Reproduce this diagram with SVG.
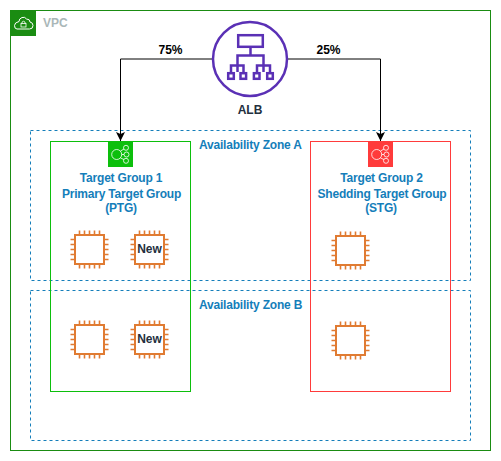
<svg xmlns="http://www.w3.org/2000/svg" width="501" height="461" viewBox="0 0 501 461">
<style>
text{font-family:"Liberation Sans",Arial,sans-serif;font-size:12px;font-weight:bold}
.az{fill:none;stroke:#147eba;stroke-dasharray:3 3}
.az-t{fill:#147eba;letter-spacing:-0.2px}
.tg{fill:#147eba;text-anchor:middle;letter-spacing:-0.2px}
.dark{fill:#232f3e;text-anchor:middle}
.conn{fill:none;stroke:#000;stroke-width:1}
.chip{fill:#fff;stroke:#e07b32;stroke-width:2}
.pins{fill:none;stroke:#e07b32;stroke-width:1.6}
.ic{fill:none;stroke:#fff;stroke-width:0.8}
.alb{fill:none;stroke:#5a30b5;stroke-width:2.5}
</style>
<defs>
<marker id="arrow" markerUnits="userSpaceOnUse" markerWidth="10" markerHeight="10" refX="9" refY="5" orient="auto"><path d="M0 0.500 L9 5 L0 9.500 L2 5 Z" fill="#000"/></marker>
<g id="chip">
<path class="pins" d="M-10 -19V-14M-5 -19V-14M0 -19V-14M5 -19V-14M10 -19V-14M-10 14V19M-5 14V19M0 14V19M5 14V19M10 14V19M-19 -10H-14M-19 -5H-14M-19 0H-14M-19 5H-14M-19 10H-14M14 -10H19M14 -5H19M14 0H19M14 5H19M14 10H19"/>
<rect class="chip" x="-14.500" y="-14.500" width="29" height="29"/>
</g>
<g id="tgicon">
<circle class="ic" cx="8.700" cy="12.500" r="5"/>
<circle class="ic" cx="18" cy="5.800" r="2.500"/>
<circle class="ic" cx="18.500" cy="12.500" r="2.500"/>
<circle class="ic" cx="18" cy="18.800" r="2.500"/>
<path class="ic" d="M12.500 9L16 7M13.700 12.500H16M12.500 16L16 17.500"/>
</g>
</defs>
<g id="vpc">
<rect x="10.500" y="10.500" width="480" height="440" fill="#fff" stroke="#1a8c12"/>
<rect x="10" y="10" width="26" height="26" fill="#1a8c12"/>
<path d="M17 29H29.500Q33 29 33 25.500Q33 22.500 30 22Q30 19 26.500 19Q25 16.500 22 17.500Q19 18.500 19 21.500Q14.500 22.500 14.500 25.500Q14.500 29 17 29Z" fill="none" stroke="#fff"/>
<rect x="21" y="23.500" width="5" height="3.500" fill="none" stroke="#fff" stroke-width="0.800"/>
<path d="M22 23.500V22Q23.500 20.500 25 22V23.500" fill="none" stroke="#fff" stroke-width="0.800"/>
<text x="43" y="27" fill="#aab7b8">VPC</text>
</g>
<g id="az-a">
<rect class="az" x="30.500" y="130.500" width="440" height="150"/>
<text class="az-t" x="199" y="149">Availability Zone A</text>
</g>
<g id="az-b">
<rect class="az" x="30.500" y="290.500" width="440" height="150"/>
<text class="az-t" x="199" y="309">Availability Zone B</text>
</g>
<g id="tg1">
<rect x="50.500" y="141.500" width="140" height="250" fill="none" stroke="#0cbf0c"/>
<rect x="108" y="142" width="25" height="25" fill="#0cbf0c"/>
<use href="#tgicon" x="108" y="142"/>
<text class="tg" x="121" y="182">Target Group 1</text>
<text class="tg" x="121.500" y="198">Primary Target Group</text>
<text class="tg" x="121" y="212">(PTG)</text>
</g>
<g id="tg2">
<rect x="310.500" y="141.500" width="140" height="250" fill="none" stroke="#ff3b3b"/>
<rect x="368" y="142" width="25" height="25" fill="#ff3b3b"/>
<use href="#tgicon" x="368" y="142"/>
<text class="tg" x="381.500" y="182">Target Group 2</text>
<text class="tg" x="382" y="198">Shedding Target Group</text>
<text class="tg" x="381" y="212">(STG)</text>
</g>
<g id="connectors">
<path class="conn" d="M212 59H120.500V141" marker-end="url(#arrow)"/>
<path class="conn" d="M288 59H380.500V141" marker-end="url(#arrow)"/>
<text class="dark" x="170.500" y="54" style="fill:#000">75%</text>
<text class="dark" x="328.500" y="54" style="fill:#000">25%</text>
</g>
<g id="alb">
<circle cx="250" cy="59" r="37" fill="#fff" stroke="#5a30b5" stroke-width="2.500"/>
<rect class="alb" x="238.200" y="35.200" width="24.600" height="11.600"/>
<path class="alb" d="M250.500 47V55.500M237.500 72V55.500H263.500V72M231 72V65.500H243.500V72M257 72V65.500H270V72"/>
<rect class="alb" x="228.200" y="73.200" width="5.600" height="5.600"/>
<rect class="alb" x="240.500" y="73.200" width="5.600" height="5.600"/>
<rect class="alb" x="253.900" y="73.200" width="5.600" height="5.600"/>
<rect class="alb" x="267.200" y="73.200" width="5.600" height="5.600"/>
<text class="dark" x="250" y="114">ALB</text>
</g>
<g id="chip-1"><use href="#chip" x="89.500" y="249.500"/></g>
<g id="chip-2"><use href="#chip" x="149.500" y="249.500"/><text class="dark" x="149.500" y="252.500">New</text></g>
<g id="chip-3"><use href="#chip" x="89.500" y="339.500"/></g>
<g id="chip-4"><use href="#chip" x="149.500" y="339.500"/><text class="dark" x="149.500" y="342.500">New</text></g>
<g id="chip-5"><use href="#chip" x="350.500" y="250.500"/></g>
<g id="chip-6"><use href="#chip" x="350.500" y="340.500"/></g>
</svg>
